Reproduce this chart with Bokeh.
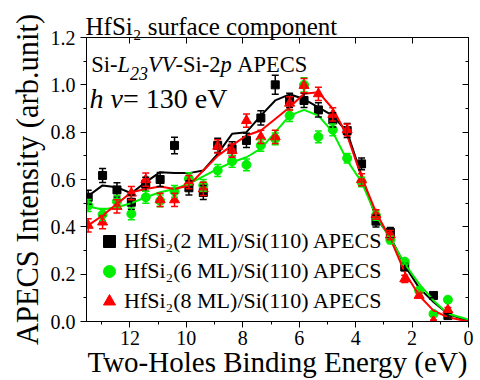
import math
from bokeh.plotting import figure
from bokeh.models import (Range1d, LinearAxis, FixedTicker, Label, Whisker,
                          TeeHead, ColumnDataSource, Legend, LegendItem,
                          CustomJSTickFormatter, PrintfTickFormatter, Title)
from bokeh.embed import file_html
from bokeh.resources import INLINE

FONT = "Liberation Serif"

# ---------------- data ----------------
fit_x = [13.48, 12.97, 12.46, 11.95, 11.44, 10.93, 10.42, 9.91, 9.40, 8.89, 8.38, 7.87, 7.36,
         6.85, 6.34, 5.83, 5.32, 4.81, 4.30, 3.79, 3.28, 2.77, 2.26, 1.75, 1.24, 0.73, 0.22, 0.0]
fit_2ml = [0.53, 0.575, 0.567, 0.542, 0.589, 0.631, 0.627, 0.627, 0.638, 0.708, 0.793, 0.80, 0.87,
           0.934, 0.96, 0.94, 0.905, 0.87, 0.80, 0.617, 0.44, 0.356, 0.237, 0.142, 0.082, 0.033, 0.011, 0.005]
fit_6ml = [0.486, 0.473, 0.483, 0.50, 0.525, 0.546, 0.56, 0.582, 0.613, 0.645, 0.673, 0.694, 0.73,
           0.80, 0.87, 0.894, 0.87, 0.80, 0.68, 0.589, 0.448, 0.35, 0.244, 0.159, 0.089, 0.033, 0.016, 0.008]
fit_8ml = [0.406, 0.448, 0.497, 0.546, 0.56, 0.57, 0.56, 0.575, 0.638, 0.70, 0.744, 0.786, 0.807,
           0.856, 0.905, 0.962, 0.969, 0.899, 0.786, 0.61, 0.462, 0.35, 0.208, 0.11, 0.046, 0.018, 0.005, 0.0]

x_2ml = [13.48, 12.97, 12.46, 11.95, 11.44, 10.93, 10.42, 9.91, 9.40, 8.89, 8.38, 7.87, 7.36,
         6.85, 6.34, 5.83, 5.32, 4.81, 4.30, 3.79, 3.28, 2.77, 2.26, 1.24, 0.73]
y_2ml = [0.525, 0.617, 0.556, 0.504, 0.58, 0.60, 0.744, 0.565, 0.545, 0.744, 0.73, 0.765, 0.86,
         1.00, 0.934, 0.934, 0.894, 0.852, 0.807, 0.666, 0.424, 0.377, 0.23, 0.11, 0.025]
e_2ml = [0.03, 0.03, 0.03, 0.03, 0.03, 0.03, 0.035, 0.03, 0.03, 0.03, 0.03, 0.03, 0.03,
         0.04, 0.03, 0.03, 0.03, 0.03, 0.03, 0.025, 0.025, 0.02, 0.015, 0.01, 0.01]

x_6ml = [13.48, 12.97, 12.46, 11.95, 11.44, 10.93, 10.42, 9.91, 9.40, 8.89, 8.38, 7.87, 7.36,
         6.85, 6.34, 5.83, 5.32, 4.81, 4.30, 3.79, 3.28, 2.77, 2.26, 1.75, 1.24, 0.73]
y_6ml = [0.49, 0.452, 0.507, 0.455, 0.525, 0.51, 0.55, 0.603, 0.575, 0.638, 0.677, 0.662, 0.744,
         0.772, 0.87, 1.00, 0.78, 0.81, 0.69, 0.589, 0.448, 0.345, 0.253, 0.131, 0.032, 0.092]
e_6ml = [0.025, 0.025, 0.025, 0.025, 0.025, 0.025, 0.025, 0.025, 0.025, 0.025, 0.025, 0.025, 0.025,
         0.025, 0.025, 0.03, 0.025, 0.025, 0.02, 0.02, 0.02, 0.015, 0.01, 0.01, 0.005, 0.005]

x_8ml = [13.48, 12.97, 12.46, 11.95, 11.44, 10.93, 10.42, 9.91, 9.40, 8.89, 8.38, 7.87, 7.36,
         6.85, 6.34, 5.83, 5.32, 4.81, 4.30, 3.79, 3.28, 2.77, 2.26, 1.75, 1.24, 0.73]
y_8ml = [0.406, 0.42, 0.486, 0.542, 0.599, 0.514, 0.514, 0.589, 0.56, 0.74, 0.722, 0.849, 0.78,
         0.78, 0.922, 0.997, 0.962, 0.875, 0.81, 0.599, 0.452, 0.365, 0.18, 0.11, 0.001, 0.049]
e_8ml = [0.028, 0.028, 0.028, 0.028, 0.028, 0.028, 0.028, 0.028, 0.028, 0.028, 0.028, 0.028, 0.028,
         0.028, 0.028, 0.03, 0.028, 0.028, 0.025, 0.025, 0.02, 0.02, 0.015, 0.01, 0.005, 0.01]

labels = ["HfSi\u2082(2 ML)/Si(110) APECS", "HfSi\u2082(6 ML)/Si(110) APECS", "HfSi\u2082(8 ML)/Si(110) APECS"]
title_text = "HfSi\u2082 surface component"
x_label = "Two-Holes Binding Energy (eV)"
y_label = "APECS Intensity (arb.unit)"
x_major = [0, 2, 4, 6, 8, 10, 12]
x_minor = [1, 3, 5, 7, 9, 11, 13]
y_major = [0.0, 0.2, 0.4, 0.6, 0.8, 1.0, 1.2]
y_minor = [0.1, 0.3, 0.5, 0.7, 0.9, 1.1]

# ---------------- figure ----------------
p = figure(width=480, height=380, x_range=Range1d(13.54, 0), y_range=Range1d(0, 1.2),
           output_backend="svg", toolbar_location=None,
           min_border_left=86, min_border_right=12, min_border_top=37, min_border_bottom=59)
p.xgrid.visible = False
p.ygrid.visible = False
p.outline_line_color = "black"
p.background_fill_color = "white"
p.border_fill_color = "white"

p.title = Title(text=title_text, text_font=FONT, text_font_size="25px", text_font_style="normal",
                text_color="black", align="left", standoff=-4, offset=-1)

for ax in (p.xaxis[0], p.yaxis[0]):
    ax.major_tick_in = 0
    ax.major_tick_out = 6
    ax.minor_tick_in = 0
    ax.minor_tick_out = 3
    ax.axis_line_color = "black"
    ax.major_tick_line_color = "black"
    ax.minor_tick_line_color = "black"
    ax.major_label_text_font = FONT
    ax.major_label_text_font_style = "normal"
    ax.major_label_text_font_size = "20px"
    ax.major_label_text_color = "black"
    ax.axis_label_text_font = FONT
    ax.axis_label_text_font_style = "normal"
    ax.axis_label_text_color = "black"

p.xaxis[0].ticker = FixedTicker(ticks=x_major, minor_ticks=x_minor)
p.yaxis[0].ticker = FixedTicker(ticks=y_major, minor_ticks=y_minor)
p.yaxis[0].formatter = PrintfTickFormatter(format="%.1f")
p.xaxis[0].major_label_standoff = 3
p.yaxis[0].major_label_standoff = 5
p.xaxis[0].axis_label = x_label
p.xaxis[0].axis_label_text_font_size = "29px"
p.xaxis[0].axis_label_standoff = -2
p.yaxis[0].axis_label = y_label
p.yaxis[0].axis_label_text_font_size = "30.5px"
p.yaxis[0].axis_label_standoff = 3

top = LinearAxis(ticker=FixedTicker(ticks=x_major, minor_ticks=[]),
                 formatter=CustomJSTickFormatter(code="return ''"),
                 major_tick_in=6, major_tick_out=0, minor_tick_in=0, minor_tick_out=0,
                 minor_tick_line_color=None, major_label_standoff=0,
                 major_label_text_font_size="0px")
p.add_layout(top, "above")
right = LinearAxis(ticker=FixedTicker(ticks=y_major, minor_ticks=y_minor),
                   formatter=CustomJSTickFormatter(code="return ''"),
                   major_tick_in=6, major_tick_out=0, minor_tick_in=3, minor_tick_out=0,
                   major_label_standoff=0, major_label_text_font_size="0px")
p.add_layout(right, "right")

# ---------------- series ----------------
series = [
    (x_2ml, y_2ml, e_2ml, fit_2ml, "#000000", "square", 8),
    (x_6ml, y_6ml, e_6ml, fit_6ml, "#00ee00", "circle", 9),
    (x_8ml, y_8ml, e_8ml, fit_8ml, "#ff0000", "triangle", 10),
]
items = []
for (xs, ys, es, fit, col, mk, sz), lab in zip(series, labels):
    p.line(fit_x, fit, line_color=col, line_width=2)
    src = ColumnDataSource(dict(x=xs, y=ys,
                                up=[a + b for a, b in zip(ys, es)],
                                lo=[a - b for a, b in zip(ys, es)]))
    w = Whisker(source=src, base="x", upper="up", lower="lo", dimension="height",
                line_color=col, line_width=1.5,
                upper_head=TeeHead(size=7, line_color=col, line_width=1.5),
                lower_head=TeeHead(size=7, line_color=col, line_width=1.5))
    w.level = "glyph"
    p.add_layout(w)
    r = p.scatter("x", "y", source=src, marker=mk, size=sz, fill_color=col, line_color=col)
    items.append(LegendItem(label=lab, renderers=[r]))

legend = Legend(items=items, location=(8, 5), glyph_width=30, glyph_height=30, spacing=0,
                padding=0, margin=0, label_standoff=0, border_line_alpha=0,
                background_fill_alpha=0, label_text_font=FONT, label_text_font_size="22px",
                label_text_color="black")
p.add_layout(legend, "center")

# ---------------- rich text helpers (inside the frame) ----------------
W = {' ': 250, '(': 333, ')': 333, '-': 333, '.': 250, '/': 278, '=': 564,
     'A': 722, 'B': 667, 'C': 667, 'E': 611, 'H': 722, 'I': 333, 'L': 611, 'M': 889,
     'P': 556, 'S': 556, 'T': 611, 'V': 722,
     'a': 444, 'b': 500, 'c': 444, 'd': 500, 'e': 444, 'f': 333, 'g': 500, 'h': 500,
     'i': 278, 'l': 278, 'm': 778, 'n': 500, 'o': 500, 'p': 500, 'r': 333, 's': 389,
     't': 278, 'u': 500, 'w': 722, 'y': 500}
WI = {'L': 556, 'V': 611, 'p': 500, 'h': 500, '\u03bd': 444}


def tw(s, size, italic):
    tot = 0
    for ch in s:
        if italic and ch in WI:
            tot += WI[ch]
        else:
            tot += W.get(ch, 500)
    return tot * size / 1000.0


def rich(pieces, x0, y0):
    x = x0
    for txt, size, italic, dy in pieces:
        lead = len(txt) - len(txt.lstrip(" "))
        x += tw(" " * lead, size, False)
        txt = txt.lstrip(" ")
        if txt:
            p.add_layout(Label(x=x, y=y0 - dy, x_units="screen", y_units="screen", text=txt,
                               text_font=FONT, text_font_size=f"{size}px",
                               text_font_style="italic" if italic else "normal",
                               text_color="black", text_baseline="alphabetic", text_align="left"))
        x += tw(txt, size, italic)


rich([("Si-", 22.5, False, 0), ("L", 22.5, True, 0), ("23", 18, True, 9), ("VV", 22.5, True, 0),
      ("-Si-2", 22.5, False, 0), ("p", 22.5, True, 0), (" APECS", 22.5, False, 0)], 4.7, 257)
rich([("h", 28, True, 0), (" ", 28, False, 0), ("\u03bd", 28, True, 0), ("= 130 eV", 28, False, 0)], 3, 223)

open("out.html", "w").write(file_html(p, INLINE))
